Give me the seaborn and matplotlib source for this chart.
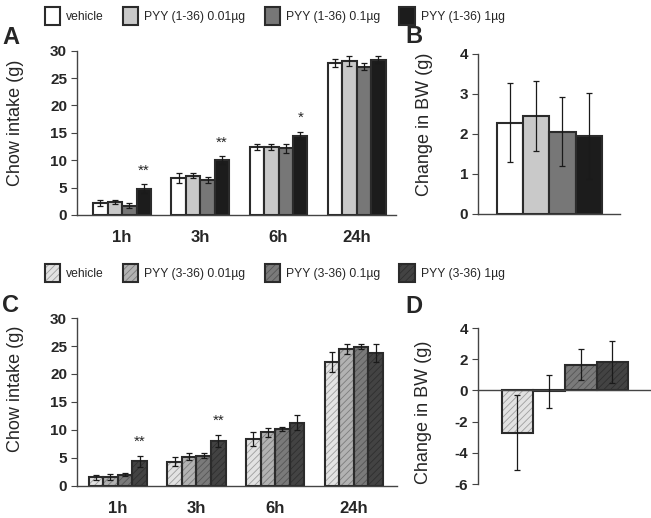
import pandas as pd
import matplotlib
matplotlib.use('Agg')
import matplotlib.pyplot as plt
import seaborn as sns
from matplotlib.patches import Patch
from matplotlib.legend_handler import HandlerTuple

# ---- data ----
times = ['1h', '3h', '6h', '24h']

groups_top = ['vehicle', 'PYY (1-36) 0.01µg', 'PYY (1-36) 0.1µg', 'PYY (1-36) 1µg']
intake_a = [[2.2, 6.8, 12.4, 27.8],
            [2.4, 7.2, 12.4, 28.1],
            [1.7, 6.4, 12.2, 27.1],
            [4.8, 10.0, 14.5, 28.4]]
intake_a_err = [[0.5, 0.9, 0.6, 0.7],
                [0.4, 0.5, 0.5, 0.9],
                [0.4, 0.5, 0.8, 0.6],
                [0.8, 0.7, 0.7, 0.7]]
stars_a = ['**', '**', '*', '']

bw_b = [2.28, 2.45, 2.06, 1.94]
bw_b_err = [0.98, 0.88, 0.86, 1.07]

groups_bot = ['vehicle', 'PYY (3-36) 0.01µg', 'PYY (3-36) 0.1µg', 'PYY (3-36) 1µg']
intake_c = [[1.5, 4.3, 8.4, 22.2],
            [1.6, 5.2, 9.6, 24.4],
            [2.0, 5.4, 10.2, 24.9],
            [4.4, 8.0, 11.3, 23.7]]
intake_c_err = [[0.4, 0.8, 1.2, 1.8],
                [0.5, 0.6, 0.8, 0.9],
                [0.3, 0.5, 0.4, 0.5],
                [1.0, 1.1, 1.4, 1.6]]
stars_c = ['**', '**', '', '']

bw_d = [-2.7, -0.05, 1.65, 1.85]
bw_d_err = [2.4, 1.05, 1.0, 1.35]

colors_top = ['#ffffff', '#c9c9c9', '#777777', '#1c1c1c']
colors_bot = ['#e2e2e2', '#b2b2b2', '#7a7a7a', '#434343']

EDGE = '#2b2b2b'
HATCH = '/////'

sns.set_style('ticks')
plt.rcParams['font.family'] = ['Liberation Sans', 'DejaVu Sans']
plt.rcParams['hatch.linewidth'] = 0.6
plt.rcParams['axes.unicode_minus'] = False


def long_df(groups, values):
    rows = []
    for g, vals in zip(groups, values):
        for t, v in zip(times, vals):
            rows.append({'time': t, 'group': g, 'value': v})
    return pd.DataFrame(rows)


def style_axis(ax, ylim, yticks):
    sns.despine(ax=ax)
    ax.set_ylim(*ylim)
    ax.set_yticks(yticks)
    ax.set_xlabel('')
    for s in ['left', 'bottom']:
        ax.spines[s].set_color('#444444')
        ax.spines[s].set_linewidth(1.0)
    ax.tick_params(axis='y', length=4, width=0.8, color='#444444', labelsize=11, pad=3)
    ax.tick_params(axis='x', length=0, labelsize=12, pad=11)
    for lab in ax.get_yticklabels() + ax.get_xticklabels():
        lab.set_fontweight('bold')


def add_errbars(ax, containers, errs):
    for cont, err in zip(containers, errs):
        xs = [p.get_x() + p.get_width() / 2 for p in cont]
        ax.errorbar(xs, cont.datavalues, yerr=err, fmt='none', ecolor='#1a1a1a',
                    elinewidth=0.9, capsize=2.5, capthick=0.9, zorder=5)


def grouped(ax, groups, values, errs, colors, hatched, stars):
    df = long_df(groups, values)
    if hatched:
        sns.barplot(data=df, x='time', y='value', hue='group', palette=colors,
                    width=0.74, errorbar=None, legend=False, ax=ax,
                    hatch=HATCH, edgecolor=(0, 0, 0, 0.3), linewidth=0)
        sns.barplot(data=df, x='time', y='value', hue='group', palette=[EDGE] * 4,
                    width=0.74, errorbar=None, legend=False, ax=ax,
                    fill=False, linewidth=1.5)
    else:
        sns.barplot(data=df, x='time', y='value', hue='group', palette=colors,
                    width=0.74, errorbar=None, legend=False, ax=ax,
                    edgecolor=EDGE, linewidth=1.5)
    add_errbars(ax, ax.containers[:4], errs)
    last = ax.containers[3]
    for p, v, e, s in zip(last, values[3], errs[3], stars):
        if s:
            ax.text(p.get_x() + p.get_width() / 2, v + e + 1.2, s,
                    ha='center', va='bottom', fontsize=11)


def single(ax, groups, values, errs, colors, hatched):
    if hatched:
        sns.barplot(x=groups, y=values, hue=groups, palette=colors, width=1,
                    errorbar=None, legend=False, ax=ax,
                    hatch=HATCH, edgecolor=(0, 0, 0, 0.3), linewidth=0)
        sns.barplot(x=groups, y=values, hue=groups, palette=[EDGE] * 4, width=1,
                    errorbar=None, legend=False, ax=ax, fill=False, linewidth=1.5)
    else:
        sns.barplot(x=groups, y=values, hue=groups, palette=colors, width=1,
                    errorbar=None, legend=False, ax=ax,
                    edgecolor=EDGE, linewidth=1.5)
    conts = ax.containers[:4]
    for cont, e in zip(conts, errs):
        add_errbars(ax, [cont], [[e]])
    ax.set_xticks([])


fig = plt.figure(figsize=(6.51, 5.18), dpi=100)

ax_a = fig.add_axes([0.118, 0.585, 0.49, 0.317])
ax_b = fig.add_axes([0.734, 0.587, 0.218, 0.309])
ax_c = fig.add_axes([0.118, 0.062, 0.492, 0.324])
ax_d = fig.add_axes([0.734, 0.0656, 0.266, 0.301])

grouped(ax_a, groups_top, intake_a, intake_a_err, colors_top, False, stars_a)
style_axis(ax_a, (0, 30), range(0, 31, 5))
ax_a.set_xlim(-0.58, 3.5)

single(ax_b, groups_top, bw_b, bw_b_err, colors_top, False)
style_axis(ax_b, (0, 4), range(0, 5))
ax_b.set_xlim(-1.23, 4.19)

grouped(ax_c, groups_bot, intake_c, intake_c_err, colors_bot, True, stars_c)
style_axis(ax_c, (0, 30), range(0, 31, 5))
ax_c.set_xlim(-0.52, 3.55)

single(ax_d, groups_bot, bw_d, bw_d_err, colors_bot, True)
style_axis(ax_d, (-6, 4), range(-6, 5, 2))
ax_d.set_xlim(-1.25, 4.22)
ax_d.spines['bottom'].set_position(('data', 0))

for ax, lab, xy in [(ax_a, 'Chow intake (g)', (-0.166, 0.56)),
                    (ax_b, 'Change in BW (g)', (-0.317, 0.56)),
                    (ax_c, 'Chow intake (g)', (-0.166, 0.58)),
                    (ax_d, 'Change in BW (g)', (-0.266, 0.46))]:
    ax.set_ylabel(lab, fontsize=13)
    ax.yaxis.set_label_coords(*xy)

for letter, x, y in [('A', 0.003, 0.905), ('B', 0.622, 0.908),
                     ('C', 0.003, 0.388), ('D', 0.622, 0.386)]:
    fig.text(x, y, letter, fontsize=17, fontweight='bold', ha='left', va='bottom')

leg_font = {'family': ['Liberation Sans Narrow', 'Liberation Sans'], 'size': 8.7}
leg_kw = dict(loc='center left', ncol=4, frameon=False, prop=leg_font,
              handlelength=1.25, handleheight=1.85, handletextpad=0.5,
              columnspacing=1.6, borderpad=0, borderaxespad=0)

handles_top = [Patch(facecolor=c, edgecolor=EDGE, linewidth=1.5) for c in colors_top]
fig.legend(handles_top, groups_top, bbox_to_anchor=(0.069, 0.969), **leg_kw)

handles_bot = [(Patch(facecolor=c, edgecolor=(0, 0, 0, 0.3), linewidth=0, hatch=HATCH),
                Patch(fill=False, edgecolor=EDGE, linewidth=1.5)) for c in colors_bot]
fig.legend(handles_bot, groups_bot, bbox_to_anchor=(0.069, 0.473),
           handler_map={tuple: HandlerTuple(ndivide=1)}, **leg_kw)

fig.savefig('out.png', dpi=100)
